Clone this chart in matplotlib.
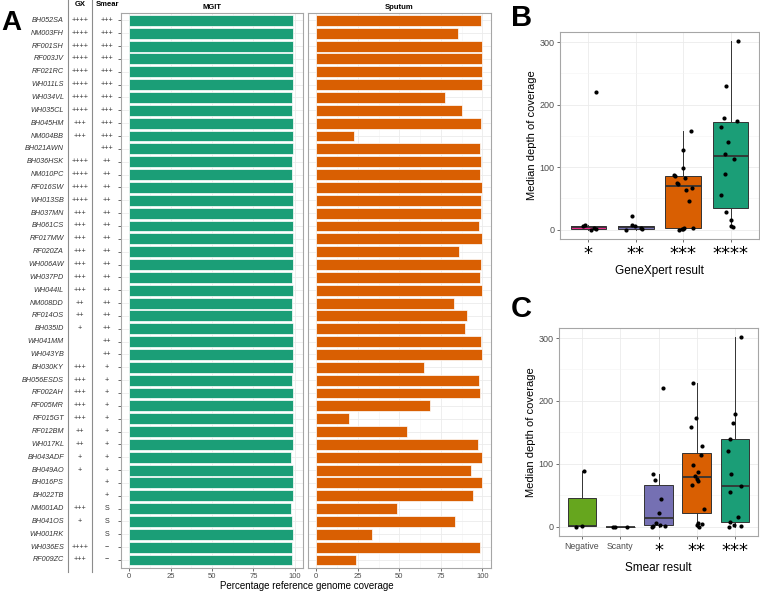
import numpy as np
import matplotlib
matplotlib.use("Agg")
import matplotlib.pyplot as plt
from matplotlib.lines import Line2D

plt.rcParams['font.family'] = ['Liberation Sans', 'DejaVu Sans']

# ---------------- Data: panel A ----------------
samples = ["BH052SA", "NM003FH", "RF001SH", "RF003JV", "RF021RC", "WH011LS", "WH034VL", "WH035CL",
           "BH045HM", "NM004BB", "BH021AWN", "BH036HSK", "NM010PC", "RF016SW", "WH013SB", "BH037MN",
           "BH061CS", "RF017MW", "RF020ZA", "WH006AW", "WH037PD", "WH044IL", "NM008DD", "RF014OS",
           "BH035ID", "WH041MM", "WH043YB", "BH030KY", "BH056ESDS", "RF002AH", "RF005MR", "RF015GT",
           "RF012BM", "WH017KL", "BH043ADF", "BH049AO", "BH016PS", "BH022TB", "NM001AD", "BH041OS",
           "WH001RK", "WH036ES", "RF009ZC"]
gx = ["++++", "++++", "++++", "++++", "++++", "++++", "++++", "++++", "+++", "+++", "",
      "++++", "++++", "++++", "++++", "+++", "+++", "+++", "+++", "+++", "+++", "+++", "++", "++",
      "+", "", "", "+++", "+++", "+++", "+++", "+++", "++", "++", "+", "+", "", "", "+++", "+",
      "", "++++", "+++"]
smear = ["+++"] * 11 + ["++"] * 16 + ["+"] * 11 + ["S"] * 3 + ["\u2212"] * 2
mgit = [99.0, 98.8, 99.0, 99.2, 99.0, 99.2, 98.4, 98.4, 98.8, 99.0, 99.0, 98.6, 98.6, 98.8, 98.8,
        98.8, 98.8, 98.8, 98.8, 98.8, 98.6, 99.2, 98.4, 98.6, 99.0, 98.8, 99.0, 99.0, 98.4, 98.8,
        98.8, 99.0, 99.0, 98.8, 97.6, 99.0, 99.0, 99.2, 98.0, 98.6, 99.2, 98.6, 98.6]
sputum = [99.0, 85.4, 99.8, 99.6, 99.6, 99.6, 77.4, 87.6, 99.4, 22.4, 98.6, 99.4, 98.8, 99.8, 99.2,
          99.4, 98.0, 99.8, 86.0, 99.4, 98.4, 99.6, 83.0, 90.8, 89.6, 99.0, 99.8, 65.0, 97.8, 98.6,
          68.4, 19.4, 54.6, 97.2, 99.6, 93.4, 99.6, 94.2, 48.6, 83.4, 33.8, 98.6, 23.8]
coverage_ticks = [0, 25, 50, 75, 100]

# ---------------- Data: panel B ----------------
gx_labels = ["*", "**", "***", "****"]
gx_1 = [0, 1, 2, 5, 7, 220]
gx_2 = [0, 1, 2, 5, 7, 21]
gx_3 = [0, 1, 1, 2, 3, 45, 64, 66, 73, 75, 82, 86, 87, 98, 128, 158]
gx_4 = [3.7, 5.3, 15.9, 27.6, 54.7, 88.7, 113.6, 120.5, 139.7, 164.6, 173.6, 179, 229, 301]

# ---------------- Data: panel C ----------------
smear_labels = ["Negative", "Scanty", "*", "**", "***"]
sm_neg = [0, 1, 89]
sm_scanty = [0, 0, 0]
sm_1 = [0, 0.5, 1.6, 3, 5.3, 21.8, 44.6, 73.8, 84.4, 221]
sm_2 = [0, 2.6, 4.2, 5.8, 27.6, 66, 73, 76, 81, 86.6, 98, 114, 129, 158, 173, 229]
sm_3 = [0, 1.5, 3.2, 6.9, 16, 54.7, 64.3, 83.4, 121, 139.7, 165, 178.4, 301]
depth_ticks = [0, 100, 200, 300]

# ---------------- Styles ----------------
GREEN = "#1B9E77"
ORANGE = "#D95F02"
PURPLE = "#7570B3"
PINK = "#E7298A"
LGREEN = "#66A61E"
FRAME = "#A6A6A6"
GRID = "#EBEBEB"
GRIDMIN = "#F4F4F4"
TICKC = "#4D4D4D"

W, H = 760, 593
fig = plt.figure(figsize=(W / 100, H / 100), dpi=100)


def rect(l, t, r, b):
    return [l / W, 1 - b / H, (r - l) / W, (b - t) / H]


def fy(py):
    return 1 - py / H


n = len(samples)
ypos = np.arange(n)
top_px, bot_px = 12.7, 567.7

# table axes
tab = fig.add_axes(rect(0, top_px, 121, bot_px))
tab.set_xlim(0, 121)
tab.set_ylim(n - 1 + 0.6, -0.6)
tab.axis("off")
for i in range(n):
    tab.text(64, ypos[i], samples[i], ha="right", va="center", fontsize=5.2, style="italic",
             color="#333333")
    tab.text(80, ypos[i], gx[i], ha="center", va="center", fontsize=5.2, color="#333333")
    tab.text(107, ypos[i], smear[i], ha="center", va="center", fontsize=5.2, color="#333333")

for xv in (68, 92):
    fig.add_artist(Line2D([xv / W, xv / W], [fy(0), fy(572)], color="#8C8C8C", lw=0.8))

fig.text(80 / W, fy(4), "GX", ha="center", va="center", fontsize=5.5, fontweight="bold")
fig.text(107 / W, fy(4), "Smear", ha="center", va="center", fontsize=5.5, fontweight="bold")


def bar_panel(rc, values, color, title, yticks):
    ax = fig.add_axes(rc)
    ax.barh(ypos, values, height=0.85, color=color, edgecolor="white", linewidth=0.5, zorder=3)
    ax.set_xlim(-5, 105)
    ax.set_ylim(n - 1 + 0.6, -0.6)
    ax.set_xticks(coverage_ticks)
    ax.set_xticks([12.5, 37.5, 62.5, 87.5], minor=True)
    ax.set_yticks(ypos)
    ax.tick_params(axis="y", labelleft=False, length=2.5 if yticks else 0, width=0.6, color="#555555")
    ax.tick_params(axis="x", which="major", labelsize=5.5, labelcolor=TICKC, length=2.5, width=0.6,
                   color="#555555", pad=1.5)
    ax.tick_params(axis="x", which="minor", length=0)
    ax.grid(True, which="major", color=GRID, lw=0.6, zorder=0)
    ax.grid(True, which="minor", axis="x", color=GRIDMIN, lw=0.4, zorder=0)
    for s in ax.spines.values():
        s.set_color(FRAME)
        s.set_linewidth(0.8)
    ax.set_title(title, fontsize=5.5, fontweight="bold", pad=3)
    return ax


ax_m = bar_panel(rect(121, top_px, 303, bot_px), mgit, GREEN, "MGIT", True)
ax_s = bar_panel(rect(308, top_px, 490.7, bot_px), sputum, ORANGE, "Sputum", False)

fig.text(307 / W, fy(586), "Percentage reference genome coverage", ha="center", va="center",
         fontsize=7)
fig.text(1 / W, fy(23), "A", ha="left", va="center", fontsize=20, fontweight="bold")


def box_panel(rc, groups, labels, colors, xlabel, seed):
    ax = fig.add_axes(rc)
    pos = np.arange(1, len(groups) + 1)
    bp = ax.boxplot(groups, positions=pos, widths=0.75, patch_artist=True, showfliers=False,
                    medianprops=dict(color="#333333", lw=1.3),
                    whiskerprops=dict(color="#333333", lw=0.7),
                    capprops=dict(lw=0), boxprops=dict(lw=0.7, edgecolor="#333333"),
                    zorder=2)
    for patch, c in zip(bp["boxes"], colors):
        patch.set_facecolor(c)
    rng = np.random.default_rng(seed)
    for p, g in zip(pos, groups):
        jit = rng.uniform(-0.2, 0.2, len(g))
        ax.scatter(p + jit, g, s=9, color="black", zorder=4, linewidths=0)
    ax.set_xlim(0.4, len(groups) + 0.6)
    ax.set_ylim(-15, 316)
    ax.set_yticks(depth_ticks)
    ax.set_yticks([50, 150, 250], minor=True)
    ax.set_xticks(pos)
    ax.set_xticklabels(labels)
    for lab in ax.get_xticklabels():
        if set(lab.get_text()) == {"*"}:
            lab.set_fontsize(13)
            lab.set_fontfamily("DejaVu Sans")
            lab.set_color("black")
        else:
            lab.set_fontsize(6.3)
            lab.set_color(TICKC)
    ax.tick_params(axis="y", labelsize=6.5, labelcolor=TICKC, length=2.5, width=0.6,
                   color="#555555", pad=1.5)
    ax.tick_params(axis="x", length=2.5, width=0.6, color="#555555", pad=1.5)
    ax.tick_params(which="minor", length=0)
    ax.grid(True, which="major", color=GRID, lw=0.6, zorder=0)
    ax.grid(True, which="minor", axis="y", color=GRIDMIN, lw=0.4, zorder=0)
    ax.set_axisbelow(True)
    for s in ax.spines.values():
        s.set_color(FRAME)
        s.set_linewidth(0.8)
    ax.set_ylabel("Median depth of coverage", fontsize=8, labelpad=2)
    ax.set_xlabel(xlabel, fontsize=8.5, labelpad=2)
    return ax


ax_b = box_panel(rect(560, 32, 759, 239), [gx_1, gx_2, gx_3, gx_4], gx_labels,
                 [PINK, PURPLE, ORANGE, GREEN], "GeneXpert result", 7)
ax_c = box_panel(rect(559, 328, 758, 536), [sm_neg, sm_scanty, sm_1, sm_2, sm_3], smear_labels,
                 [LGREEN, PINK, PURPLE, ORANGE, GREEN], "Smear result", 11)
fig.text(511 / W, fy(18), "B", ha="left", va="center", fontsize=21, fontweight="bold")
fig.text(511 / W, fy(309), "C", ha="left", va="center", fontsize=21, fontweight="bold")

fig.savefig("out.png", dpi=100)
